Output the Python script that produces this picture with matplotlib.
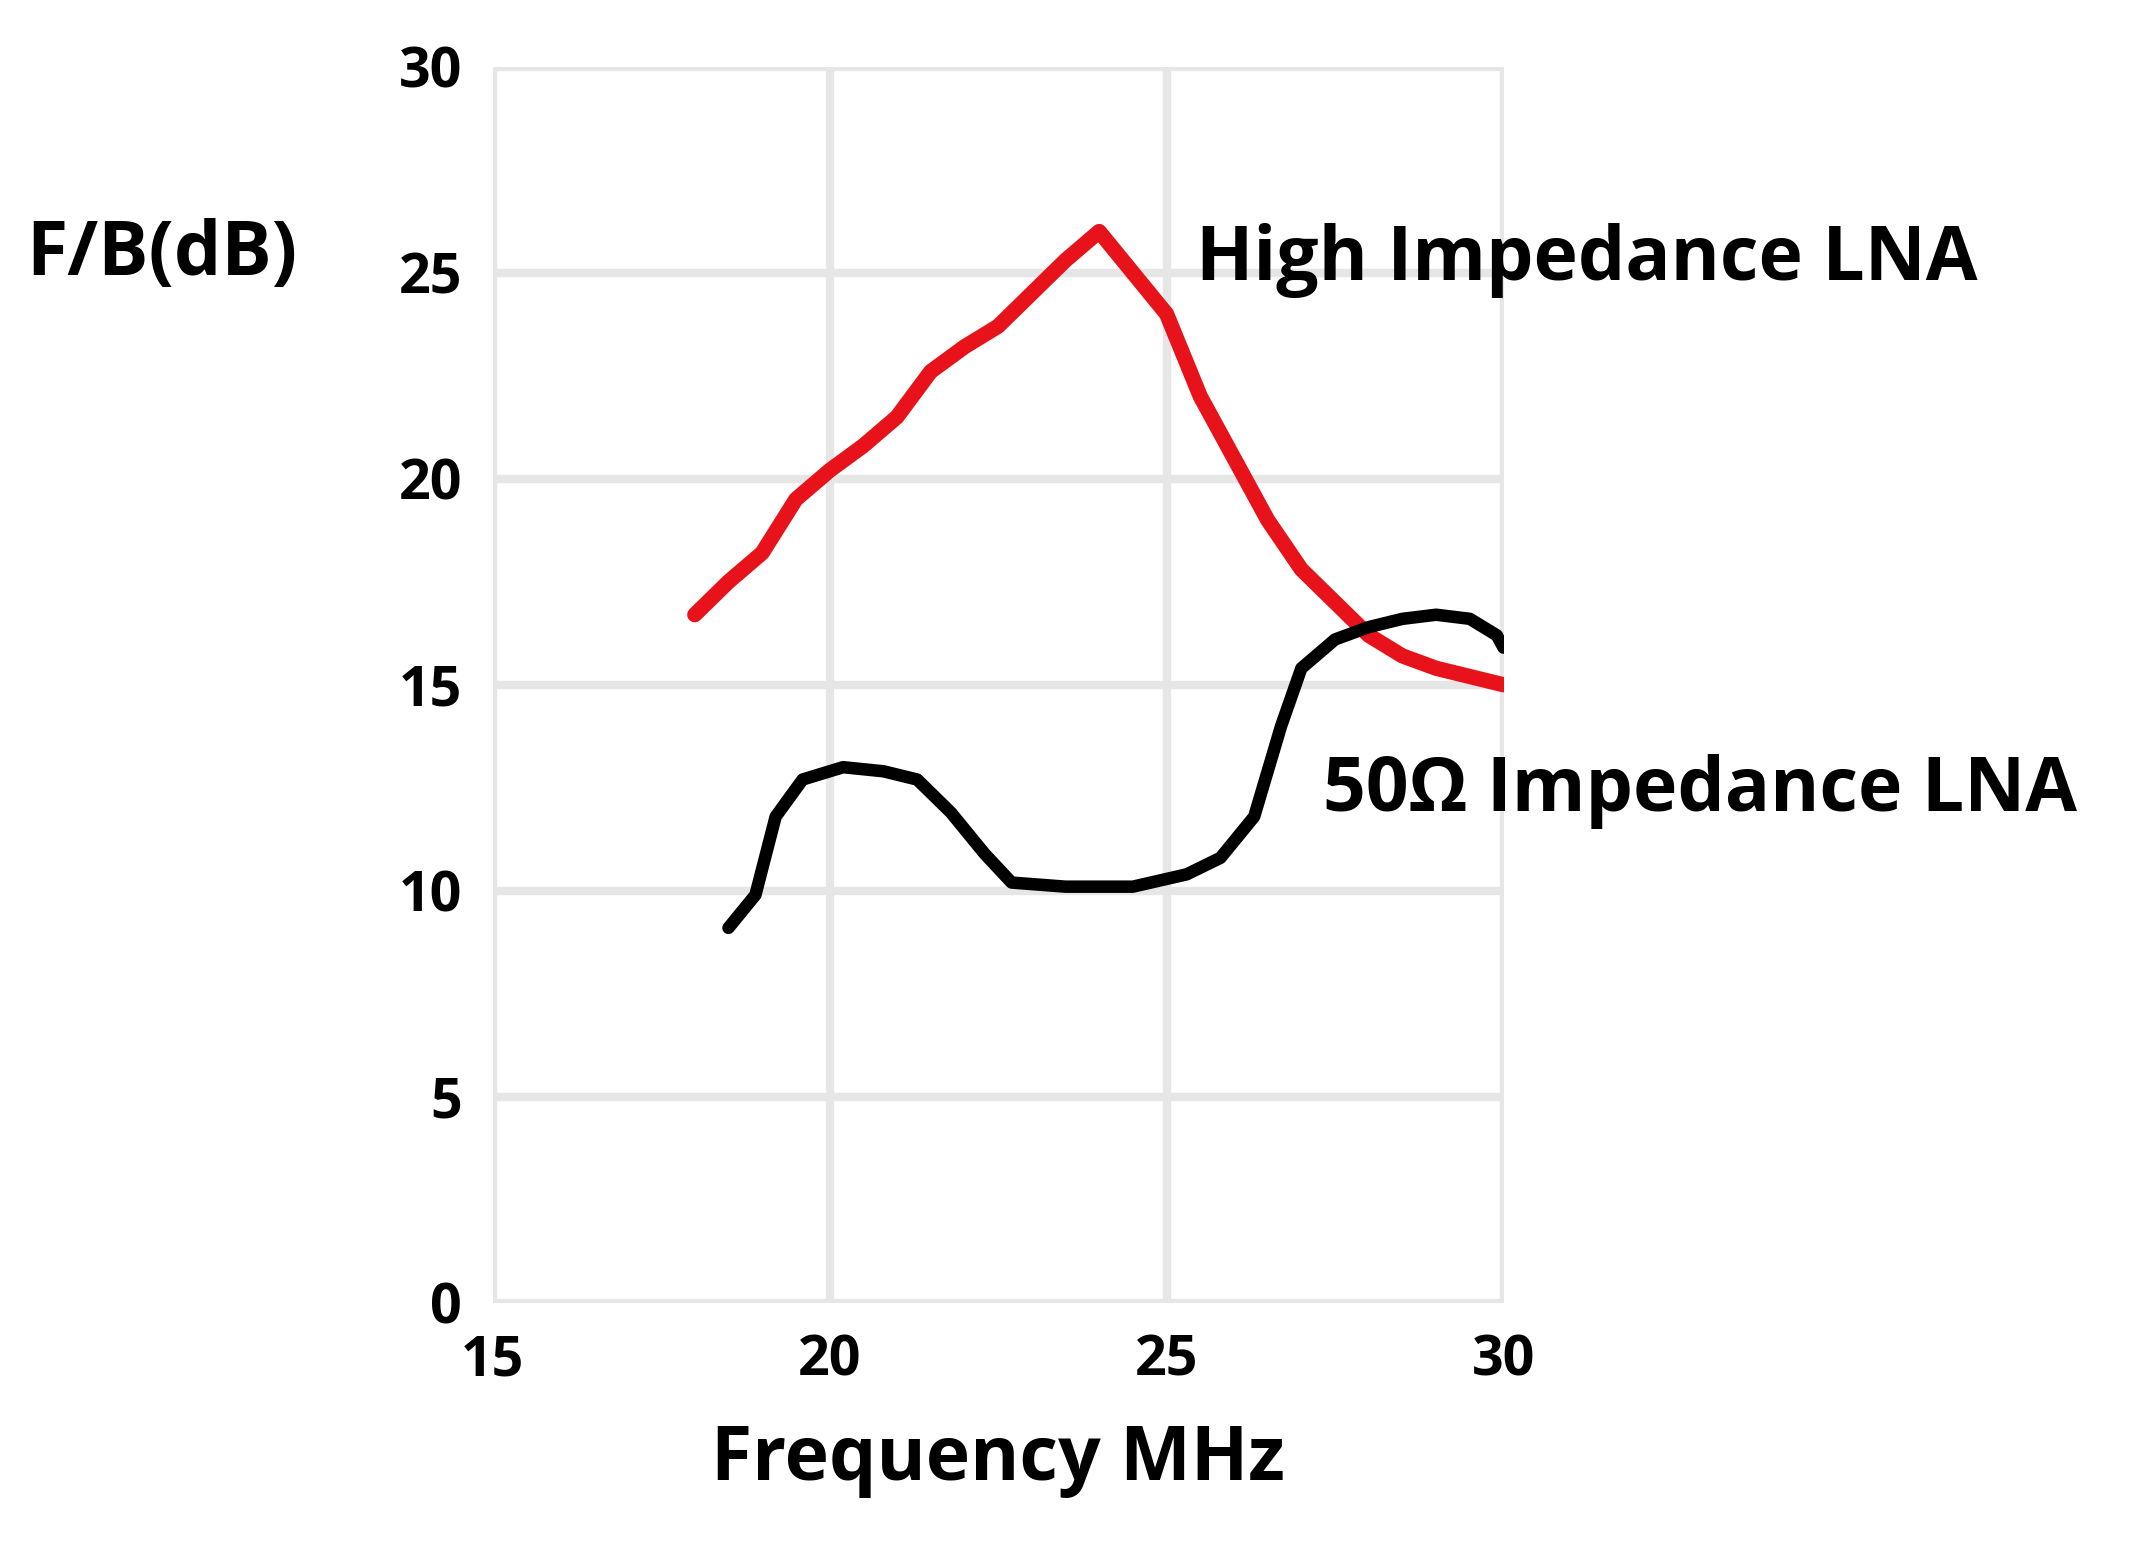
import matplotlib
matplotlib.use("Agg")
import matplotlib.pyplot as plt

red_x = [18,18.5,19,19.5,20,20.5,21,21.5,22,22.5,23,23.5,24,24.5,25,25.5,26,26.5,27,27.5,28,28.5,29,29.5,30]
red_y = [16.7,17.5,18.2,19.5,20.2,20.8,21.5,22.6,23.2,23.7,24.5,25.3,26,25,24,22,20.5,19,17.8,17,16.2,15.7,15.4,15.2,15]
blk_x = [18.5,18.9,19.2,19.6,20.2,20.8,21.3,21.8,22.3,22.7,23.5,24.5,25.3,25.8,26.3,26.7,27,27.5,28,28.5,29,29.5,29.9,30]
blk_y = [9.1,9.9,11.8,12.7,13,12.9,12.7,11.9,10.9,10.2,10.1,10.1,10.4,10.8,11.8,14,15.4,16.1,16.4,16.6,16.7,16.6,16.2,15.9]
xticks = [15,20,25,30]
yticks = [0,5,10,15,20,25,30]

plt.rcParams['font.family'] = ['Open Sans', 'DejaVu Sans']
fig = plt.figure(figsize=(21.51,15.51), dpi=100)
ax = fig.add_axes([0.229,0.16,0.47,0.797])
ax.plot(red_x, red_y, color='#e8121a', lw=11, solid_capstyle='round', solid_joinstyle='round')
ax.plot(blk_x, blk_y, color='black', lw=9, solid_capstyle='round', solid_joinstyle='round')
ax.set_xlim(15,30); ax.set_ylim(0,30)
ax.set_xticks(xticks); ax.set_yticks(yticks)
ax.grid(True, color='#e6e6e6', lw=6)
ax.set_axisbelow(True)
for s in ax.spines.values(): s.set_visible(False)
ax.tick_params(length=0, labelsize=40, pad=22)
for t in ax.get_xticklabels()+ax.get_yticklabels(): t.set_fontweight('bold')
ax.set_xlabel('Frequency MHz', fontsize=54, fontweight='bold', labelpad=25)
fig.text(0.012, 0.835, 'F/B(dB)', fontsize=54, fontweight='bold', va='center')
fig.text(0.556, 0.832, 'High Impedance LNA', fontsize=54, fontweight='bold', va='center')
fig.text(0.615, 0.49, '50Ω Impedance LNA', fontsize=54, fontweight='bold', va='center')
fig.savefig('out.png', dpi=100, facecolor='white')
